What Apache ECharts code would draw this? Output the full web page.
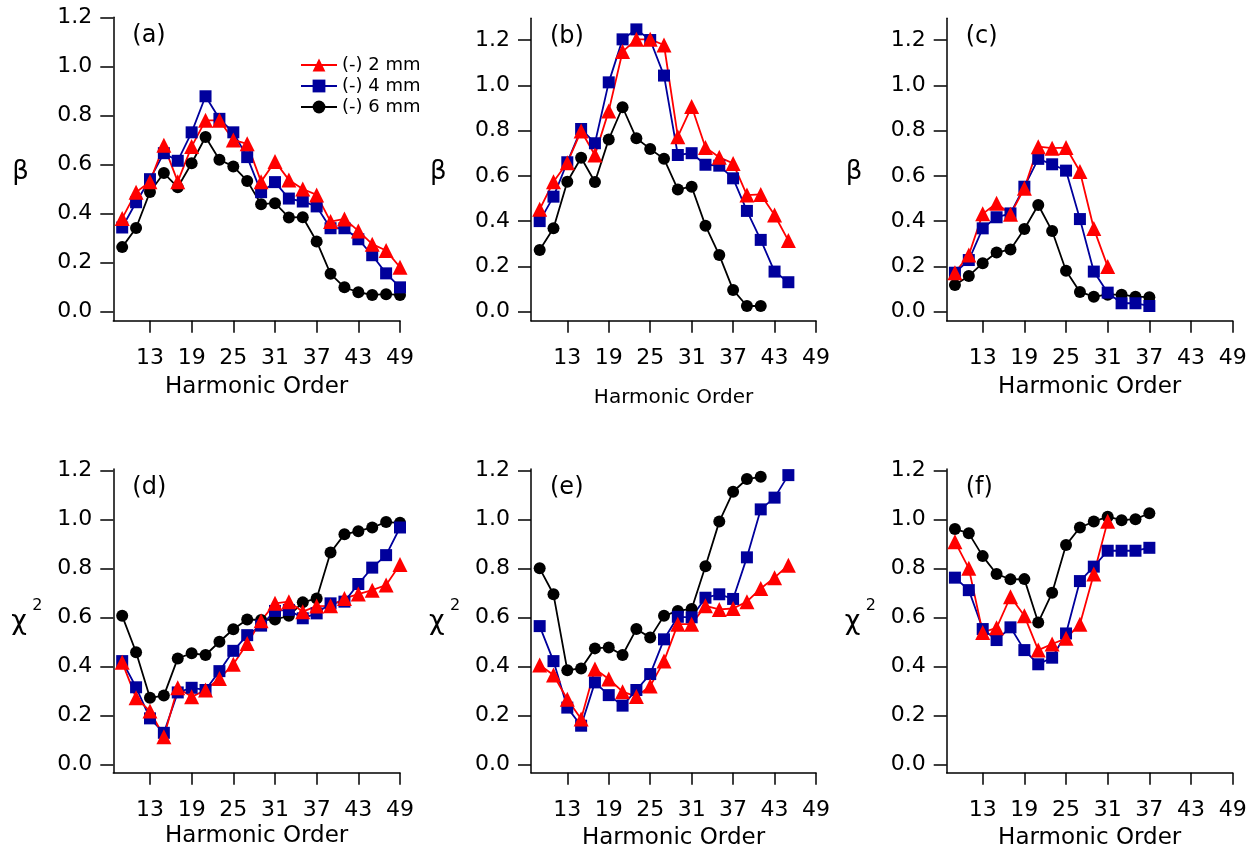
<!DOCTYPE html>
<html>
<head>
<meta charset="utf-8">
<script src="https://cdn.jsdelivr.net/npm/echarts@6/dist/echarts.min.js"></script>
<style>
html,body{margin:0;padding:0;background:#fff;}
#chart{width:1260px;height:863px;}
</style>
</head>
<body>
<div id="chart"></div>
<script>
// Harmonic orders
const H9to49 = [9,11,13,15,17,19,21,23,25,27,29,31,33,35,37,39,41,43,45,47,49];
const H9to45 = [9,11,13,15,17,19,21,23,25,27,29,31,33,35,37,39,41,43,45];
const H9to41 = [9,11,13,15,17,19,21,23,25,27,29,31,33,35,37,39,41];
const H9to37 = [9,11,13,15,17,19,21,23,25,27,29,31,33,35,37];
const H9to31 = [9,11,13,15,17,19,21,23,25,27,29,31];

const xTicks = [13,19,25,31,37,43,49];
const yTicks = [0,0.2,0.4,0.6,0.8,1.0,1.2];
const seriesNames = ['(-) 2 mm','(-) 4 mm','(-) 6 mm'];
const panelLetters = ['(a)','(b)','(c)','(d)','(e)','(f)'];

// (a) beta
const a2 = [0.38,0.487,0.53,0.678,0.53,0.673,0.78,0.78,0.70,0.684,0.53,0.612,0.537,0.50,0.476,0.367,0.378,0.329,0.275,0.249,0.181];
const a4 = [0.343,0.446,0.54,0.646,0.615,0.731,0.878,0.786,0.731,0.63,0.487,0.528,0.461,0.449,0.429,0.340,0.340,0.295,0.230,0.156,0.099];
const a6 = [0.263,0.341,0.488,0.565,0.507,0.605,0.712,0.619,0.592,0.533,0.438,0.442,0.384,0.385,0.286,0.154,0.099,0.079,0.068,0.071,0.068];
// (b) beta
const b2 = [0.452,0.574,0.658,0.798,0.692,0.887,1.149,1.203,1.203,1.178,0.773,0.906,0.725,0.682,0.655,0.515,0.518,0.427,0.314];
const b4 = [0.40,0.508,0.66,0.807,0.744,1.013,1.203,1.247,1.200,1.043,0.692,0.70,0.649,0.645,0.589,0.445,0.317,0.177,0.130];
const b6 = [0.272,0.368,0.574,0.680,0.573,0.761,0.903,0.766,0.719,0.675,0.540,0.552,0.380,0.250,0.096,0.025,0.025];
// (c) beta
const c2 = [0.172,0.25,0.432,0.479,0.43,0.545,0.729,0.722,0.725,0.619,0.367,0.199];
const c4 = [0.172,0.228,0.368,0.417,0.434,0.552,0.675,0.651,0.623,0.409,0.177,0.084,0.037,0.037,0.025];
const c6 = [0.118,0.158,0.214,0.261,0.275,0.365,0.471,0.356,0.181,0.087,0.066,0.075,0.075,0.066,0.064];
// (d) chi^2
const d2 = [0.417,0.272,0.218,0.113,0.313,0.276,0.304,0.351,0.409,0.494,0.587,0.658,0.665,0.624,0.647,0.648,0.678,0.696,0.712,0.733,0.817];
const d4 = [0.422,0.315,0.188,0.129,0.294,0.313,0.304,0.381,0.464,0.528,0.567,0.627,0.631,0.597,0.617,0.658,0.665,0.737,0.804,0.855,0.968];
const d6 = [0.607,0.458,0.272,0.281,0.433,0.454,0.447,0.501,0.552,0.592,0.590,0.592,0.607,0.662,0.678,0.866,0.940,0.953,0.968,0.990,0.987];
// (e) chi^2
const e2 = [0.406,0.365,0.266,0.185,0.390,0.349,0.297,0.277,0.320,0.422,0.573,0.573,0.648,0.633,0.637,0.665,0.719,0.763,0.814];
const e4 = [0.565,0.422,0.232,0.158,0.335,0.283,0.240,0.304,0.369,0.511,0.603,0.601,0.681,0.695,0.676,0.846,1.042,1.090,1.182];
const e6 = [0.801,0.695,0.385,0.392,0.474,0.478,0.447,0.553,0.518,0.607,0.627,0.635,0.810,0.992,1.114,1.166,1.175];
// (f) chi^2
const f2 = [0.910,0.801,0.539,0.558,0.685,0.607,0.467,0.492,0.515,0.573,0.778,0.994];
const f4 = [0.763,0.712,0.553,0.508,0.560,0.467,0.409,0.436,0.535,0.749,0.808,0.873,0.873,0.873,0.885];
const f6 = [0.962,0.944,0.851,0.778,0.756,0.757,0.580,0.701,0.896,0.968,0.992,1.012,0.998,1.002,1.026];

const panels = [
  {h2:H9to49,v2:a2,h4:H9to49,v4:a4,h6:H9to49,v6:a6},
  {h2:H9to45,v2:b2,h4:H9to45,v4:b4,h6:H9to41,v6:b6},
  {h2:H9to31,v2:c2,h4:H9to37,v4:c4,h6:H9to37,v6:c6},
  {h2:H9to49,v2:d2,h4:H9to49,v4:d4,h6:H9to49,v6:d6},
  {h2:H9to45,v2:e2,h4:H9to45,v4:e4,h6:H9to41,v6:e6},
  {h2:H9to31,v2:f2,h4:H9to37,v4:f4,h6:H9to37,v6:f6}
];

// layout (pixels)
const layout = [
  {left:113.3, right:400,    top:17.3, bottom:320.7, xMin:7.72,  yMin:-0.037, yMax:1.2,   nameGap:55},
  {left:531,   right:816,    top:18.3, bottom:320.7, xMin:7.745, yMin:-0.040, yMax:1.296, nameGap:67, nameSize:20},
  {left:946.7, right:1232.7, top:18.3, bottom:320.7, xMin:7.816, yMin:-0.040, yMax:1.296, nameGap:55},
  {left:113.3, right:400,    top:469,  bottom:772.7, xMin:7.72,  yMin:-0.034, yMax:1.207, nameGap:52},
  {left:531,   right:816,    top:469,  bottom:772.7, xMin:7.745, yMin:-0.034, yMax:1.207, nameGap:54},
  {left:946.7, right:1232.7, top:469,  bottom:772.7, xMin:7.816, yMin:-0.034, yMax:1.207, nameGap:54}
];

const FONT = 'DejaVu Sans';
const RED = '#ff0000', BLUE = '#00009c', BLACK = '#000000';

const grid = [], xAxis = [], yAxis = [], series = [], graphic = [];
layout.forEach((L, i) => {
  grid.push({left:L.left, top:L.top, width:L.right - L.left, height:L.bottom - L.top, containLabel:false});
  xAxis.push({
    type:'value', gridIndex:i, min:L.xMin, max:49,
    name:'Harmonic Order', nameLocation:'middle', nameGap:L.nameGap,
    nameTextStyle:{fontFamily:FONT, fontSize:L.nameSize || 23, color:'#000'},
    axisLine:{show:true, onZero:false, lineStyle:{color:'#000', width:1.5}},
    axisTick:{show:true, inside:false, length:12, customValues:xTicks, lineStyle:{color:'#000', width:1.5}},
    axisLabel:{show:true, margin:27, customValues:xTicks, fontFamily:FONT, fontSize:22, color:'#000'},
    splitLine:{show:false}
  });
  yAxis.push({
    type:'value', gridIndex:i, min:L.yMin, max:L.yMax,
    axisLine:{show:true, onZero:false, lineStyle:{color:'#000', width:1.5}},
    axisTick:{show:true, inside:false, length:13, customValues:yTicks, lineStyle:{color:'#000', width:1.5}},
    axisLabel:{show:true, margin:21, customValues:yTicks, fontFamily:FONT, fontSize:22, color:'#000',
      formatter:v => v.toFixed(1)},
    splitLine:{show:false}
  });
  const P = panels[i];
  const mk = (name, hs, vs, color, symbol, size) => ({
    name, type:'line', xAxisIndex:i, yAxisIndex:i,
    data: hs.map((h, k) => [h, vs[k]]),
    symbol, symbolSize:size, showAllSymbol:true, animation:false,
    lineStyle:{color, width:1.8},
    itemStyle:{color, borderWidth:0},
    emphasis:{disabled:true}
  });
  series.push(mk(seriesNames[2], P.h6, P.v6, BLACK, 'circle', 12));
  series.push(mk(seriesNames[1], P.h4, P.v4, BLUE, 'rect', 12));
  series.push(mk(seriesNames[0], P.h2, P.v2, RED, 'triangle', 15));

  // panel letter
  graphic.push({type:'text', left: L.left + 19, top: L.top + (i < 3 ? 6 : 7),
    style:{text:panelLetters[i], font:'24px "DejaVu Sans"', fill:'#000'}});
  // y-axis symbol
  const ymid = i < 3 ? 174 : 629;
  if (i < 3) {
    graphic.push({type:'text', left: L.left - 101, top: ymid - 15,
      style:{text:'β', font:'26px "DejaVu Sans"', fill:'#000'}});
  } else {
    graphic.push({type:'text', left: L.left - 102, top: ymid - 21,
      style:{text:'χ', font:'27px "DejaVu Sans"', fill:'#000'}});
    graphic.push({type:'text', left: L.left - 81, top: ymid - 31,
      style:{text:'2', font:'16px "DejaVu Sans"', fill:'#000'}});
  }
});

const chart = echarts.init(document.getElementById('chart'), null, {renderer:'canvas'});
chart.setOption({
  backgroundColor:'#ffffff',
  animation:false,
  grid, xAxis, yAxis, series, graphic,
  legend:{
    show:true, orient:'vertical', left:295, top:50,
    data:seriesNames,
    itemWidth:36, itemHeight:16, itemGap:1,
    textStyle:{fontFamily:FONT, fontSize:18, color:'#000', lineHeight:20},
    selectedMode:false
  }
});
</script>
</body>
</html>
